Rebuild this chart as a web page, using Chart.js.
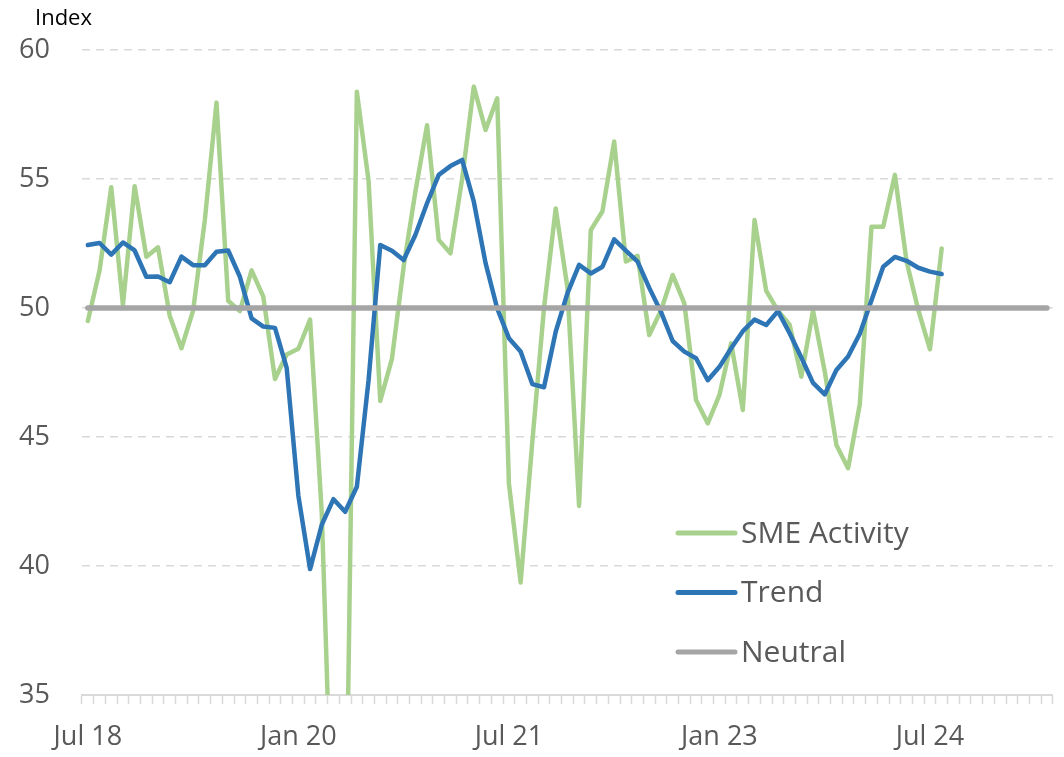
<!DOCTYPE html>
<html>
<head>
<meta charset="utf-8">
<script src="https://cdn.jsdelivr.net/npm/chart.js@4/dist/chart.umd.min.js"></script>
<style>
  html, body { margin: 0; padding: 0; background: #ffffff; }
  #wrap { width: 1064px; height: 757px; }
</style>
</head>
<body>
<div id="wrap"><canvas id="c" width="1064" height="757"></canvas></div>
<script>
// ---------- data ----------
const months = [
  'Jul 18','Aug 18','Sep 18','Oct 18','Nov 18','Dec 18',
  'Jan 19','Feb 19','Mar 19','Apr 19','May 19','Jun 19','Jul 19','Aug 19','Sep 19','Oct 19','Nov 19','Dec 19',
  'Jan 20','Feb 20','Mar 20','Apr 20','May 20','Jun 20','Jul 20','Aug 20','Sep 20','Oct 20','Nov 20','Dec 20',
  'Jan 21','Feb 21','Mar 21','Apr 21','May 21','Jun 21','Jul 21','Aug 21','Sep 21','Oct 21','Nov 21','Dec 21',
  'Jan 22','Feb 22','Mar 22','Apr 22','May 22','Jun 22','Jul 22','Aug 22','Sep 22','Oct 22','Nov 22','Dec 22',
  'Jan 23','Feb 23','Mar 23','Apr 23','May 23','Jun 23','Jul 23','Aug 23','Sep 23','Oct 23','Nov 23','Dec 23',
  'Jan 24','Feb 24','Mar 24','Apr 24','May 24','Jun 24','Jul 24','Aug 24','Sep 24','Oct 24','Nov 24','Dec 24',
  'Jan 25','Feb 25','Mar 25','Apr 25','May 25'
];
const tickLabels = ['Jul 18', 'Jan 20', 'Jul 21', 'Jan 23', 'Jul 24'];
const yTickValues = [35, 40, 45, 50, 55, 60];
const axisTitle = 'Index';
const seriesNames = ['SME Activity', 'Trend', 'Neutral'];
const seriesColors = ['#a9d18e', '#2e75b6', '#a5a5a5'];

const smeActivity = [
  49.5, 51.45, 54.68, 50.12, 54.72, 51.99, 52.35, 49.7, 48.44, 49.9,
  53.4, 57.96, 50.28, 49.88, 51.46, 50.44, 47.25, 48.2, 48.42, 49.55,
  42.05, 27.8, 26.8, 58.38, 54.93, 46.4, 48.03, 51.6, 54.5, 57.08,
  52.64, 52.12, 55.0, 58.58, 56.9, 58.13, 43.2, 39.36, 44.8, 50.0,
  53.86, 50.8, 42.33, 53.02, 53.75, 56.45, 51.8, 52.02, 48.95, 49.9,
  51.28, 50.18, 46.43, 45.53, 46.63, 48.63, 46.05, 53.41, 50.66, 49.9,
  49.35, 47.34, 49.9, 47.55, 44.69, 43.79, 46.27, 53.15, 53.15, 55.16,
  51.8, 49.92, 48.4, 52.31
];
const trend = [
  52.44, 52.52, 52.07, 52.54, 52.23, 51.21, 51.22, 51.0, 51.99, 51.66,
  51.66, 52.18, 52.23, 51.21, 49.6, 49.28, 49.23, 47.68, 42.72, 39.88,
  41.6, 42.59, 42.1, 43.07, 47.2, 52.44, 52.22, 51.86, 52.83, 54.06,
  55.16, 55.5, 55.74, 54.12, 51.75, 49.98, 48.83, 48.31, 47.05, 46.93,
  49.08, 50.57, 51.67, 51.34, 51.6, 52.66, 52.22, 51.8, 50.78, 49.85,
  48.72, 48.31, 48.05, 47.2, 47.72, 48.44, 49.1, 49.55, 49.34, 49.88,
  49.02, 48.08, 47.1, 46.65, 47.6, 48.12, 49.0, 50.3, 51.6, 51.98,
  51.83, 51.56, 51.41, 51.32
];
const neutral = [
  50, 50, 50, 50, 50, 50, 50, 50, 50, 50,
  50, 50, 50, 50, 50, 50, 50, 50, 50, 50,
  50, 50, 50, 50, 50, 50, 50, 50, 50, 50,
  50, 50, 50, 50, 50, 50, 50, 50, 50, 50,
  50, 50, 50, 50, 50, 50, 50, 50, 50, 50,
  50, 50, 50, 50, 50, 50, 50, 50, 50, 50,
  50, 50, 50, 50, 50, 50, 50, 50, 50, 50,
  50, 50, 50, 50, 50, 50, 50, 50, 50, 50,
  50, 50, 50
];

// ---------- styling ----------
const FONT = '"Open Sans", "DejaVu Sans", sans-serif';
const TEXT_COLOR = '#595959';
const GRID_COLOR = '#d9d9d9';

const insideLegend = {
  id: 'insideLegend',
  afterDraw(chart) {
    const ctx = chart.ctx;
    const area = chart.chartArea;
    const x0 = area.left + 596;
    const y0 = area.top + 483;
    const rowGap = 59.5;
    ctx.save();
    [0, 1, 2].forEach((idx, k) => {
      const ds = chart.data.datasets[idx];
      const y = y0 + k * rowGap;
      ctx.strokeStyle = ds.borderColor;
      ctx.lineWidth = 5;
      ctx.lineCap = 'round';
      ctx.beginPath();
      ctx.moveTo(x0, y);
      ctx.lineTo(x0 + 57, y);
      ctx.stroke();
      ctx.fillStyle = TEXT_COLOR;
      ctx.font = '30px ' + FONT;
      ctx.textAlign = 'left';
      ctx.textBaseline = 'middle';
      ctx.fillText(ds.label, x0 + 63, y + 1);
    });
    ctx.restore();
  }
};

const axisTitlePlugin = {
  id: 'axisTitlePlugin',
  afterDraw(chart) {
    const ctx = chart.ctx;
    ctx.save();
    ctx.fillStyle = '#000000';
    ctx.font = '22px ' + FONT;
    ctx.textAlign = 'left';
    ctx.textBaseline = 'alphabetic';
    ctx.fillText(axisTitle, 35, 25);
    ctx.restore();
  }
};

new Chart(document.getElementById('c'), {
  type: 'line',
  data: {
    labels: months,
    datasets: [
      {
        label: seriesNames[0], data: smeActivity, borderColor: seriesColors[0],
        borderWidth: 4.5, pointRadius: 0, tension: 0, order: 3,
        borderJoinStyle: 'round', borderCapStyle: 'round'
      },
      {
        label: seriesNames[1], data: trend, borderColor: seriesColors[1],
        borderWidth: 4.5, pointRadius: 0, tension: 0, order: 2,
        borderJoinStyle: 'round', borderCapStyle: 'round'
      },
      {
        label: seriesNames[2], data: neutral, borderColor: seriesColors[2],
        borderWidth: 5.5, pointRadius: 0, tension: 0, order: 1,
        borderJoinStyle: 'round', borderCapStyle: 'round'
      }
    ]
  },
  options: {
    responsive: false,
    animation: false,
    devicePixelRatio: 1,
    layout: { padding: { left: 0, right: 10, top: 50, bottom: 0 } },
    plugins: {
      legend: { display: false },
      tooltip: { enabled: false },
      title: { display: false }
    },
    scales: {
      x: {
        type: 'category',
        offset: true,
        grid: {
          offset: true,
          drawOnChartArea: false,
          drawTicks: true,
          tickLength: 9,
          tickColor: GRID_COLOR,
          tickWidth: 1.5
        },
        border: { display: true, color: GRID_COLOR, width: 2 },
        ticks: {
          autoSkip: false,
          maxRotation: 0,
          minRotation: 0,
          padding: 17,
          color: TEXT_COLOR,
          font: { family: FONT, size: 27 },
          callback: function (value, index) {
            const lab = months[index];
            return tickLabels.includes(lab) ? lab : '';
          }
        },
        afterFit(scale) { scale.height = 62; }
      },
      y: {
        min: yTickValues[0],
        max: yTickValues[yTickValues.length - 1],
        afterBuildTicks(scale) { scale.ticks = yTickValues.map(v => ({ value: v })); },
        grid: {
          drawTicks: false,
          color: (c) => (c.tick && c.tick.value === yTickValues[0]) ? 'rgba(0,0,0,0)' : GRID_COLOR,
          lineWidth: 1.5
        },
        border: { display: false, dash: [8, 6] },
        ticks: {
          padding: 32,
          color: TEXT_COLOR,
          font: { family: FONT, size: 27 }
        },
        afterFit(scale) { scale.width = 82; }
      }
    }
  },
  plugins: [insideLegend, axisTitlePlugin]
});
</script>
</body>
</html>
